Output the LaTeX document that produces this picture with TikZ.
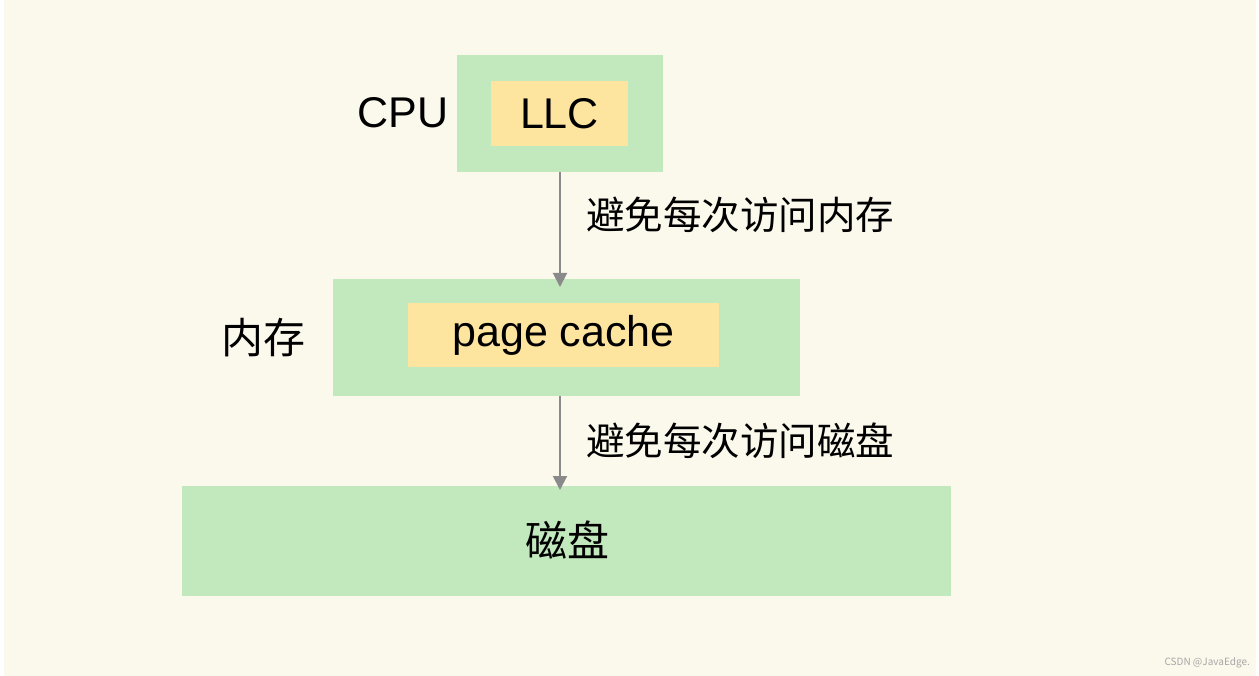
\documentclass[tikz,border=0pt]{standalone}
\usepackage{fontspec}
\setmainfont{Noto Sans CJK SC}
\newfontfamily\latinf{Liberation Sans}
\usetikzlibrary{arrows.meta}
\definecolor{bg}{HTML}{FBF8EC}
\definecolor{grn}{HTML}{C2E8BD}
\definecolor{ylw}{HTML}{FDE5A0}
\definecolor{arr}{HTML}{8A8A8A}
\begin{document}
\begin{tikzpicture}[x=1pt,y=-1pt,
  outer/.style={fill=grn,draw=none},
  inner/.style={fill=ylw,draw=none},
  lbl/.style={font=\fontsize{42}{44}\selectfont,text=black,inner sep=0pt},
  lat/.style={font=\latinf\fontsize{43}{45}\selectfont,text=black,inner sep=0pt},
  conn/.style={draw=arr,line width=2pt,-{Triangle[width=14pt,length=14pt]}},
  alabel/.style={font=\fontsize{38.5}{40}\selectfont,text=black,inner sep=0pt,anchor=west}]
\fill[white] (0,0) rectangle (1259,676);
\fill[bg] (4,0) rectangle (1256,676);
\useasboundingbox (0,0) rectangle (1259,676);
% CPU
\node[outer,minimum width=206pt,minimum height=117pt,inner sep=0pt] (cpu) at (560,113.5) {};
\node[inner,minimum width=137pt,minimum height=65pt,lat] (llc) at (559.5,113.5) {LLC};
\node[lat] (cpul) at (403,113) {CPU};
% memory
\node[outer,minimum width=467pt,minimum height=117pt,inner sep=0pt] (mem) at (566.5,337.5) {};
\node[inner,minimum width=311pt,minimum height=64pt,lat] (pc) at (563.5,335) {page cache};
\node[lbl] (meml) at (263,338) {内存};
% disk
\node[outer,minimum width=769pt,minimum height=110pt,inner sep=0pt] (disk) at (566.5,541) {};
\node[lbl] (diskl) at (567,540) {磁盘};
% arrows
\coordinate (a1e) at (560,287);
\coordinate (a2e) at (560,490);
\draw[conn] (cpu.south -| a1e) -- (a1e);
\draw[conn] (mem.south -| a2e) -- (a2e);
\node[alabel] (t1) at (586,215) {避免每次访问内存};
\node[alabel] (t2) at (586,441) {避免每次访问磁盘};
\node[font=\fontsize{10}{12}\selectfont,text=gray!70,anchor=east,inner sep=0pt] (wm) at (1250,663) {CSDN @JavaEdge.};
\end{tikzpicture}
\end{document}
